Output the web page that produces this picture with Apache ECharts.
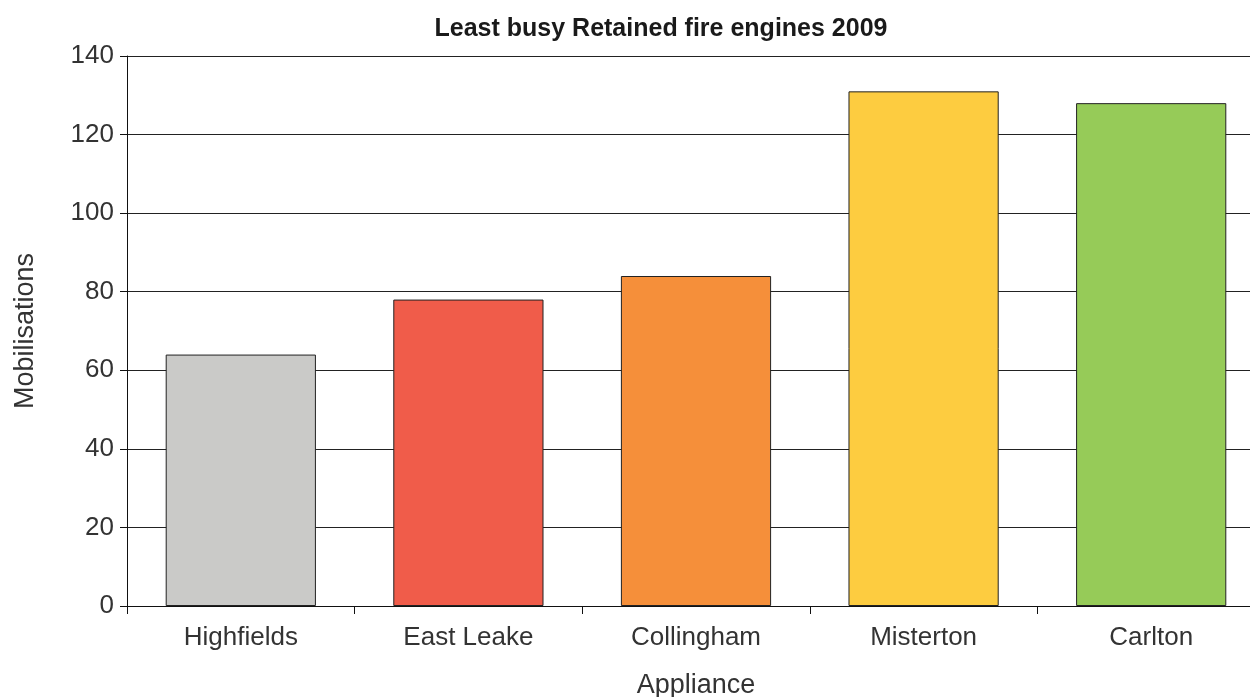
<!DOCTYPE html>
<html>
<head>
<meta charset="utf-8">
<script src="https://cdn.jsdelivr.net/npm/echarts@6/dist/echarts.min.js"></script>
<style>
html,body{margin:0;padding:0;background:#fff;overflow:hidden;}
#chart{width:1250px;height:697px;}
</style>
</head>
<body>
<div id="chart"></div>
<script>
const titleText = 'Least busy Retained fire engines 2009';
const categories = ['Highfields', 'East Leake', 'Collingham', 'Misterton', 'Carlton'];
const mobilisations = [64, 78, 84, 131, 128];
const barColors = ['#CACAC8', '#F05C4A', '#F58F3A', '#FDCC40', '#96CB58'];
const yTicks = [0, 20, 40, 60, 80, 100, 120, 140];

const chart = echarts.init(document.getElementById('chart'));
chart.setOption({
  animation: false,
  backgroundColor: '#fff',
  title: {
    text: titleText,
    left: 656, top: 12, textAlign: 'center',
    textStyle: {fontFamily: 'Liberation Sans, Arial', fontSize: 25, fontWeight: 'bold', color: '#1a1a1a'}
  },
  grid: {left: 127, width: 1138, top: 56, bottom: 91, containLabel: false, outerBoundsMode: 'none'},
  xAxis: {
    type: 'category',
    data: categories,
    name: 'Appliance',
    nameLocation: 'middle',
    nameGap: 66,
    nameTextStyle: {fontFamily: 'Liberation Sans, Arial', fontSize: 27, color: '#333'},
    axisLine: {show: true, lineStyle: {color: '#111', width: 1}},
    axisTick: {show: true, alignWithLabel: false, length: 8, lineStyle: {color: '#111'}},
    axisLabel: {fontFamily: 'Liberation Sans, Arial', fontSize: 26, color: '#333', margin: 19},
    splitLine: {show: false}
  },
  yAxis: {
    type: 'value',
    min: yTicks[0], max: yTicks[yTicks.length - 1], interval: 20,
    name: 'Mobilisations',
    nameLocation: 'middle',
    nameGap: 88,
    nameTextStyle: {fontFamily: 'Liberation Sans, Arial', fontSize: 27, color: '#333'},
    axisLine: {show: true, lineStyle: {color: '#111', width: 1}},
    axisTick: {show: true, length: 7, lineStyle: {color: '#111'}},
    axisLabel: {fontFamily: 'Liberation Sans, Arial', fontSize: 26, color: '#333', margin: 13, padding: [5, 0, 0, 0]},
    splitLine: {show: true, lineStyle: {color: '#222', width: 1}}
  },
  series: [{
    type: 'bar',
    data: mobilisations.map((v, i) => ({value: v, itemStyle: {color: barColors[i]}})),
    barCategoryGap: '34%',
    itemStyle: {borderColor: '#222', borderWidth: 1}
  }]
});
</script>
</body>
</html>
